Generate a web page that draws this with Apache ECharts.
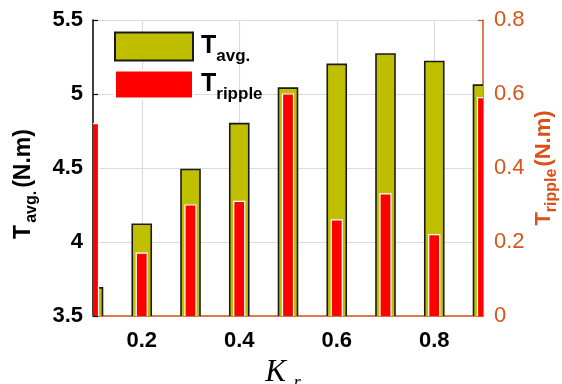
<!DOCTYPE html>
<html>
<head>
<meta charset="utf-8">
<script src="https://cdn.jsdelivr.net/npm/echarts@6/dist/echarts.min.js"></script>
<style>
  html, body { margin: 0; padding: 0; background: #fff; }
  #chart { width: 562px; height: 384px; }
</style>
</head>
<body>
<div id="chart"></div>
<script>
// Ratio K_r and the two torque quantities measured for each value
const categories = ['0.1', '0.2', '0.3', '0.4', '0.5', '0.6', '0.7', '0.8', '0.9'];
const tAvg = [3.69, 4.12, 4.49, 4.80, 5.04, 5.20, 5.27, 5.22, 5.06];      // N.m, left axis
const tRipple = [0.52, 0.17, 0.30, 0.31, 0.60, 0.26, 0.33, 0.22, 0.59];  // N.m, right axis

const leftTicks = { min: 3.5, max: 5.5, interval: 0.5 };
const rightTicks = { min: 0, max: 0.8, interval: 0.2 };

const ORANGE = '#D95319';
const OLIVE = '#BFBF00';
const FONT = 'Liberation Sans, Arial, sans-serif';

const oddTick = function (i) { return i % 2 === 1; };

// Bars centred on each category, cut off by the plotting area at both ends
function barRenderer(width, baseValue, fill, stroke, lineWidth) {
  return function (params, api) {
    const idx = api.value(0);
    const top = api.coord([idx, api.value(1)]);
    const base = api.coord([idx, baseValue]);
    return {
      type: 'rect',
      shape: { x: top[0] - width / 2, y: top[1], width: width, height: base[1] - top[1] + 2 },
      style: { fill: fill, stroke: stroke, lineWidth: lineWidth }
    };
  };
}

const chart = echarts.init(document.getElementById('chart'), null, { renderer: 'canvas' });

chart.setOption({
  animation: false,
  backgroundColor: '#fff',
  grid: { left: 93, right: 79, top: 20, bottom: 68, containLabel: false, outerBoundsMode: 'none' },
  legend: {
    left: 114,
    top: 28,
    orient: 'vertical',
    padding: 0,
    itemGap: 1,
    itemWidth: 78,
    itemHeight: 28,
    icon: 'rect',
    data: ['Tavg', 'Tripple'],
    formatter: function (name) {
      return name === 'Tavg' ? '{t|T}{s|avg.}' : '{t|T}{s|ripple}';
    },
    textStyle: {
      rich: {
        t: { fontFamily: FONT, fontWeight: 'bold', fontSize: 25, lineHeight: 26, color: '#000', padding: [0, 0, 0, 3] },
        s: { fontFamily: FONT, fontWeight: 'bold', fontSize: 17, lineHeight: 17, color: '#000', padding: [20, 0, 0, 0] }
      }
    }
  },
  xAxis: [
    {
      type: 'category',
      data: categories,
      boundaryGap: false,
      name: '{k|K}{r|r}',
      nameLocation: 'middle',
      nameGap: 41,
      nameMoveOverlap: false,
      nameTextStyle: {
        rich: {
          k: { fontFamily: 'Liberation Serif, Times New Roman, serif', fontStyle: 'italic', fontSize: 31, lineHeight: 31, color: '#000' },
          r: { fontFamily: 'Liberation Serif, Times New Roman, serif', fontStyle: 'italic', fontSize: 18, lineHeight: 18, color: '#000', padding: [22, 0, 0, 8] }
        },
        padding: [0, 10, 0, 0]
      },
      axisLine: { show: true, lineStyle: { color: ORANGE, width: 1.5 } },
      axisTick: { show: true, inside: true, length: 4, interval: oddTick, lineStyle: { color: ORANGE } },
      axisLabel: {
        interval: oddTick,
        margin: 14,
        fontFamily: FONT,
        fontWeight: 'bold',
        fontSize: 22,
        color: '#000'
      },
      splitLine: { show: true, interval: oddTick, lineStyle: { color: '#dcdcdc', width: 1.2 } }
    }
  ],
  yAxis: [
    {
      type: 'value',
      position: 'left',
      min: leftTicks.min,
      max: leftTicks.max,
      interval: leftTicks.interval,
      name: '{t|T}{s|avg.}{t|(N.m)}',
      nameLocation: 'middle',
      nameRotate: 90,
      nameGap: 57,
      nameMoveOverlap: false,
      nameTextStyle: {
        rich: {
          t: { fontFamily: FONT, fontWeight: 'bold', fontSize: 23, lineHeight: 24, color: '#000' },
          s: { fontFamily: FONT, fontWeight: 'bold', fontSize: 16, lineHeight: 16, color: '#000', padding: [16, 3, 0, 2] }
        },
        padding: [0, 32, 0, 0]
      },
      axisLine: { show: true, lineStyle: { color: '#000', width: 1.5 } },
      axisTick: { show: true, inside: true, length: 5, lineStyle: { color: '#000', width: 1.2 } },
      axisLabel: {
        margin: 10,
        fontFamily: FONT,
        fontWeight: 'bold',
        fontSize: 22,
        color: '#000',
        formatter: function (v) { return String(+v.toFixed(1)); }
      },
      splitLine: { show: true, lineStyle: { color: '#dcdcdc', width: 1.2 } }
    },
    {
      type: 'value',
      position: 'right',
      min: rightTicks.min,
      max: rightTicks.max,
      interval: rightTicks.interval,
      name: '{t|T}{s|ripple}{t|(N.m)}',
      nameLocation: 'middle',
      nameRotate: 90,
      nameGap: 49,
      nameMoveOverlap: false,
      nameTextStyle: {
        rich: {
          t: { fontFamily: FONT, fontWeight: 'bold', fontSize: 22, lineHeight: 24, color: ORANGE },
          s: { fontFamily: FONT, fontWeight: 'bold', fontSize: 16, lineHeight: 16, color: ORANGE, padding: [16, 2, 0, 0] }
        }
      },
      axisLine: { show: true, lineStyle: { color: ORANGE, width: 1.5 } },
      axisTick: { show: true, inside: true, length: 5, lineStyle: { color: ORANGE, width: 1.2 } },
      axisLabel: {
        margin: 11,
        fontFamily: FONT,
        fontSize: 22,
        color: ORANGE,
        formatter: function (v) { return String(+v.toFixed(1)); }
      },
      splitLine: { show: false }
    }
  ],
  series: [
    {
      name: 'Tavg',
      type: 'custom',
      xAxisIndex: 0,
      yAxisIndex: 0,
      clip: true,
      z: 2,
      data: tAvg.map(function (v, i) { return [i, v]; }),
      encode: { x: 0, y: 1 },
      itemStyle: { color: OLIVE, borderColor: '#1a1a1a', borderWidth: 1.6 },
      renderItem: barRenderer(19, leftTicks.min, OLIVE, '#1a1a1a', 1.6)
    },
    {
      name: 'Tripple',
      type: 'custom',
      xAxisIndex: 0,
      yAxisIndex: 1,
      clip: true,
      z: 3,
      data: tRipple.map(function (v, i) { return [i, v]; }),
      encode: { x: 0, y: 1 },
      itemStyle: { color: '#FF0000', borderColor: '#ffffff', borderWidth: 1.2 },
      renderItem: barRenderer(11, rightTicks.min, '#FF0000', '#ffffff', 1.2)
    }
  ]
});
</script>
</body>
</html>
